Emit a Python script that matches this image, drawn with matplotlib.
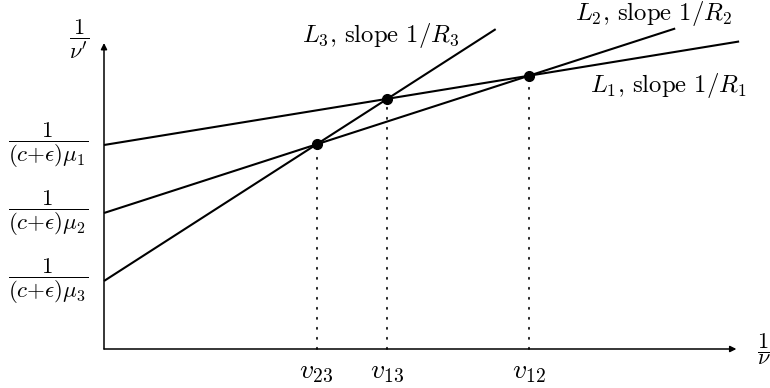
import numpy as np
import matplotlib
matplotlib.use('Agg')
import matplotlib.pyplot as plt

plt.rcParams['mathtext.fontset'] = 'cm'
plt.rcParams['font.family'] = 'serif'
plt.rcParams['font.serif'] = ['cmr10', 'DejaVu Serif']
plt.rcParams['axes.formatter.use_mathtext'] = True

# Прямые L1, L2, L3: пересечение с осью и наклон 1/R
names = ['1', '2', '3']
intercepts = [3.0, 2.0, 1.0]
slopes = [0.163, 0.323, 0.643]
x_end = [9.34, 8.4, 5.76]
pairs = [(2, 3), (1, 3), (1, 2)]

fig = plt.figure(figsize=(7.7, 3.88), dpi=100)
ax = fig.add_axes([0, 0, 1, 1])
ax.set_xlim(-104 / 68, 666 / 68)
ax.set_ylim(-39 / 68, 349 / 68)
ax.axis('off')

# Оси со стрелками
ax.annotate('', xy=(9.3, 0), xytext=(0, 0),
            arrowprops=dict(arrowstyle='-|>', lw=1.1, color='black', mutation_scale=9,
                            shrinkA=0, shrinkB=0))
ax.annotate('', xy=(0, 4.5), xytext=(0, 0),
            arrowprops=dict(arrowstyle='-|>', lw=1.1, color='black', mutation_scale=9,
                            shrinkA=0, shrinkB=0))

for b, s, xe in zip(intercepts, slopes, x_end):
    xs = np.array([0, xe])
    ax.plot(xs, b + s * xs, color='black', lw=1.5, solid_capstyle='butt')

# Точки пересечения
for i, j in pairs:
    bi, si = intercepts[i - 1], slopes[i - 1]
    bj, sj = intercepts[j - 1], slopes[j - 1]
    xc = (bi - bj) / (sj - si)
    yc = bi + si * xc
    ax.plot([xc, xc], [0, yc], color='black', lw=1.2, dashes=(0.8, 5.2),
            dash_capstyle='round')
    ax.plot(xc, yc, 'o', color='black', ms=7)
    ax.text(xc, -0.34, r'$v_{%d%d}$' % (i, j), ha='center', va='center', fontsize=20)

for n, b in zip(names, intercepts):
    ax.text(-0.23, b, r'$\dfrac{1}{(c{+}\epsilon)\mu_%s}$' % n, ha='right', va='center',
            fontsize=16.5)

ax.text(-0.36, 4.55, r"$\dfrac{1}{\nu'}$", ha='center', va='center', fontsize=16)
ax.text(9.7, 0, r'$\dfrac{1}{\nu}$', ha='center', va='center', fontsize=16)

ax.text(198 / 68, 314 / 68, r'$L_3$, slope $1/R_3$', ha='left', va='center',
        fontsize=17.8)
ax.text(471 / 68, 335 / 68, r'$L_2$, slope $1/R_2$', ha='left', va='center',
        fontsize=17.8)
ax.text(486 / 68, 264 / 68, r'$L_1$, slope $1/R_1$', ha='left', va='center',
        fontsize=17.8)

plt.savefig('out.png', dpi=100)
